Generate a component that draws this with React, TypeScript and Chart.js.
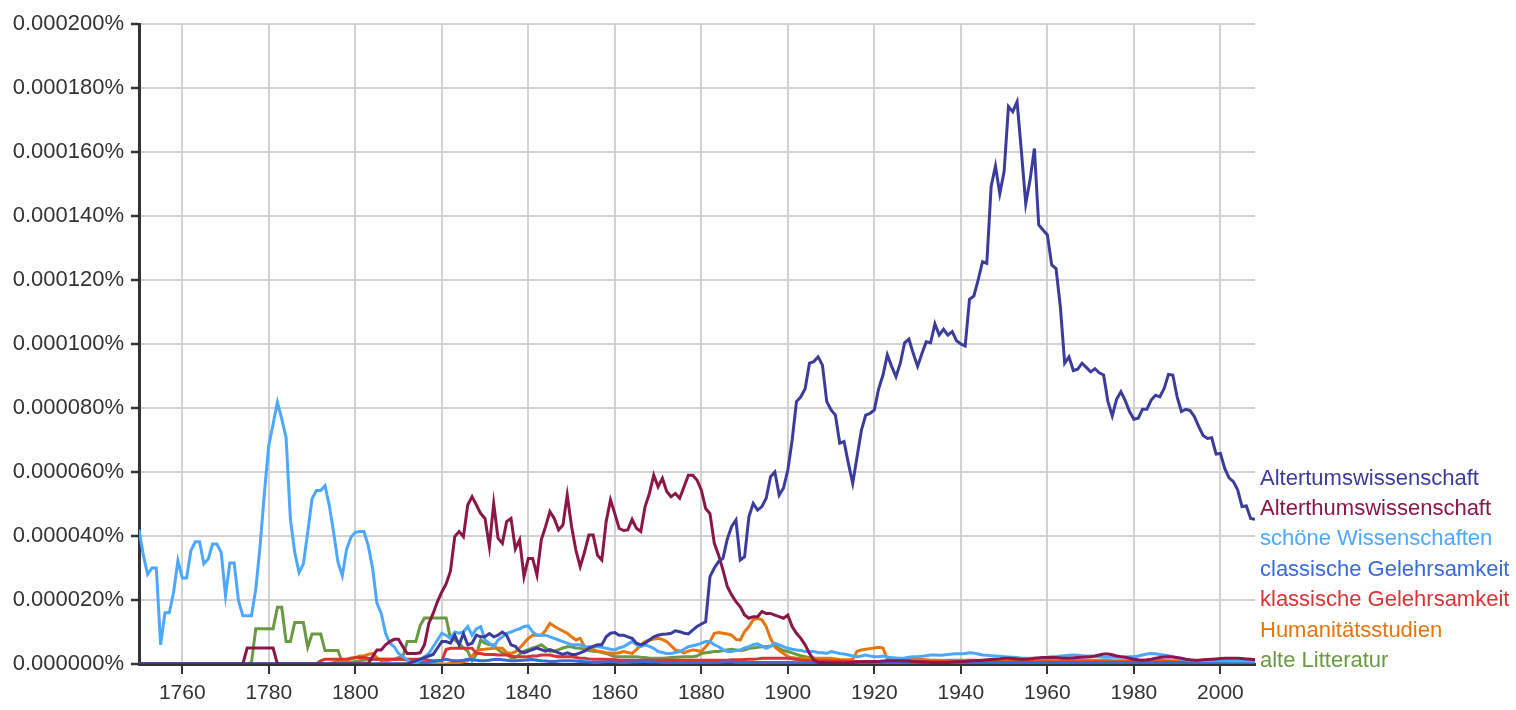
import React, { useEffect, useRef } from 'react';
import { Chart, registerables } from 'chart.js';

Chart.register(...registerables);

// Years 1750..2008, one value per year. Values in units of 0.000001 %.
const START_YEAR = 1750;
const END_YEAR = 2008;
const X_TICKS = [1760, 1780, 1800, 1820, 1840, 1860, 1880, 1900, 1920, 1940, 1960, 1980, 2000];
const Y_MIN = 0;
const Y_MAX = 200;
const Y_STEP = 20;

const SERIES_NAMES = [
  'Altertumswissenschaft',
  'Alterthumswissenschaft',
  'schöne Wissenschaften',
  'classische Gelehrsamkeit',
  'klassische Gelehrsamkeit',
  'Humanitätsstudien',
  'alte Litteratur',
];

const SERIES_COLORS = ['#3c3c9c', '#8a1748', '#4ca8ff', '#3a6ad8', '#d93434', '#e8740c', '#699a42'];

const ALTERTUMS = [
  0, 0, 0, 0, 0, 0, 0, 0, 0, 0,
  0, 0, 0, 0, 0, 0, 0, 0, 0, 0,
  0, 0, 0, 0, 0, 0, 0, 0, 0, 0,
  0, 0, 0, 0, 0, 0, 0, 0, 0, 0,
  0, 0, 0, 0, 0, 0, 0, 0, 0, 0,
  0, 0, 0, 0, 0, 0, 0, 0, 0, 0,
  0, 0, 0, 0.5, 1, 1.5, 2, 2.5, 3, 5,
  7, 7, 6.5, 9, 6, 9.5, 6, 6.5, 9, 8.5,
  8.5, 9.5, 8.5, 9, 10, 9, 6, 5.5, 4, 3.5,
  4, 4.5, 5, 4.5, 4, 4.5, 4, 3.5, 3, 3.5,
  3, 3, 3.5, 4, 5, 5.5, 6, 6, 8.5, 9.6,
  9.8, 9, 9, 8.5, 8, 6.5, 6, 6.5, 7.5, 8.5,
  9, 9.3, 9.4, 9.6, 10.4, 10.1, 9.6, 9.4, 10.6, 11.7,
  12.5, 13.2, 27.3, 30, 32, 33, 39, 43, 45, 32.5,
  33.5, 46, 50.2, 48.1, 49.2, 51.8, 58.5, 60, 52.8, 55,
  60.6, 70, 82, 83.5, 86, 94, 94.5, 96, 93.4, 82,
  79.4, 77.8, 69, 69.5, 62.7, 56.5, 64.8, 73, 77.8, 78.3,
  79.4, 86, 90.3, 96.6, 93, 89.8, 94, 100.4, 101.5, 97,
  93, 97, 100.7, 100.4, 106.3, 102.8, 104.6, 102.8, 103.9, 101,
  100, 99.4, 114, 115, 120, 125.7, 125.2, 149.2, 155.6, 147,
  153.9, 174.2, 172.6, 175.7, 160.1, 143.8, 151.3, 161.1, 137.2, 135.6,
  134.1, 124.7, 123.6, 111.7, 94, 96, 91.7, 92.1, 94, 92.7,
  91.3, 92.3, 91, 90.3, 82, 77.5, 82.7, 85.1, 82.3, 78.9,
  76.5, 76.8, 79.6, 79.6, 82.5, 84, 83.5, 86.1, 90.5, 90.3,
  83.5, 78.9, 79.6, 79.2, 77.3, 74.2, 71.4, 70.5, 70.7, 65.6,
  65.8, 61.1, 58.2, 57, 54.4, 49.2, 49.4, 45.5, 45.2,
];

const ALTERTHUMS = [
  0, 0, 0, 0, 0, 0, 0, 0, 0, 0,
  0, 0, 0, 0, 0, 0, 0, 0, 0, 0,
  0, 0, 0, 0, 0, 5, 5, 5, 5, 5,
  5, 5, 0, 0, 0, 0, 0, 0, 0, 0,
  0, 0, 0, 0, 0, 0, 0, 0, 0, 0,
  0, 0, 0, 0.2, 2.3, 4.4, 4.4, 6, 7, 7.7,
  7.7, 5.4, 3.3, 3.3, 3.3, 3.5, 6, 12.7, 15.8, 19.5,
  22.5, 25, 29, 39.8, 41.4, 39.8, 49.7, 52.3, 49.7, 47,
  45.5, 36.7, 50.2, 39.3, 37.7, 44.5, 45.5, 36, 38.8, 27.3,
  33, 33, 27.8, 38.8, 43, 47.6, 45.5, 41.9, 43.4, 52.8,
  43, 35.6, 30.4, 35, 40.3, 40.3, 34, 32.5, 44.5, 51.3,
  47, 42.4, 41.7, 41.9, 45.2, 42.4, 41.4, 49.2, 53.3, 59,
  55.4, 58, 53.9, 52.3, 53.3, 51.8, 55.4, 59, 59, 57.5,
  54.4, 48.6, 47, 37.7, 34, 29.4, 24.2, 21.6, 19.5, 17.9,
  15.3, 14.3, 14.8, 14.8, 16.4, 15.8, 15.8, 15.3, 14.8, 14.3,
  15.3, 11.7, 9.6, 8, 6, 3.3, 1.3, 0.5, 0.5, 0.4,
  0.3, 0.3, 0.3, 0.3, 0.4, 0.5, 0.6, 0.7, 0.7, 0.7,
  0.8, 0.8, 0.9, 1, 1, 1, 1, 1, 0.9, 0.8,
  0.7, 0.6, 0.6, 0.5, 0.5, 0.5, 0.5, 0.5, 0.6, 0.7,
  0.7, 0.8, 0.9, 1, 1.1, 1.2, 1.3, 1.4, 1.5, 1.6,
  1.8, 1.8, 1.7, 1.6, 1.5, 1.5, 1.6, 1.8, 1.9, 2,
  2, 2, 2, 1.9, 1.8, 1.8, 1.9, 2, 2.1, 2.2,
  2.3, 2.5, 2.8, 3.1, 3.1, 2.9, 2.5, 2.3, 2.1, 1.8,
  1.5, 1.3, 1.2, 1.3, 1.5, 1.8, 2, 2.2, 2.3, 2.2,
  2, 1.8, 1.5, 1.3, 1.2, 1.2, 1.3, 1.4, 1.5, 1.6,
  1.7, 1.8, 1.8, 1.8, 1.8, 1.7, 1.6, 1.5, 1.3,
];

const SCHOENE = [
  42, 34, 28, 30, 30, 6, 16, 16, 22.4, 32.3,
  26.9, 26.9, 35.4, 38.2, 38.2, 31.3, 32.8, 37.5, 37.5, 34.9,
  21.4, 31.6, 31.6, 19.8, 15.1, 15.1, 15.1, 23.4, 37, 53.6,
  68.2, 75, 81.8, 76.6, 70.8, 45.3, 34.9, 28.6, 31.3, 41.1,
  51.6, 54.2, 54.2, 55.7, 49.5, 41.1, 31.8, 27.6, 35.9, 39.6,
  41.1, 41.4, 41.4, 37, 30, 19, 15.8, 9.6, 6.5, 5.4,
  3.3, 2.3, 1.3, 0.2, 0, 1.3, 2.3, 3.3, 5.4, 7.5,
  9.6, 9, 8, 10, 9.6, 10, 11.7, 9, 11, 11.7,
  7.5, 6.5, 5.4, 7.5, 8.5, 9.6, 10, 10.6, 11, 11.7,
  11.9, 10, 9, 9, 9, 8.5, 8, 7.5, 7, 6.5,
  6, 6, 6, 5.5, 5.4, 5.4, 5.4, 5.2, 4.9, 4.6,
  4.4, 5, 5.4, 6.2, 7, 6, 5.4, 6, 5.5, 4.9,
  3.9, 3.6, 3.3, 3.3, 3.6, 3.9, 4.6, 5.4, 5.7, 6,
  6.5, 7, 7, 6, 5.4, 4.5, 3.9, 3.9, 4.2, 4.4,
  5, 5.4, 6, 6.3, 5.6, 4.9, 5.5, 6.5, 6, 5.4,
  4.9, 4.6, 4.4, 4.2, 3.9, 3.9, 3.9, 3.6, 3.5, 3.3,
  3.9, 3.6, 3.3, 3.1, 2.8, 2.5, 2.3, 2.5, 2.8, 2.5,
  2.3, 2.3, 2.5, 2.2, 2, 1.9, 1.8, 1.9, 2.1, 2.3,
  2.3, 2.4, 2.6, 2.8, 2.8, 2.7, 2.8, 3, 3.1, 3.2,
  3.2, 3.3, 3.5, 3.4, 3.1, 2.8, 2.7, 2.6, 2.5, 2.4,
  2.3, 2.2, 2.1, 2, 1.8, 1.8, 1.8, 1.8, 1.9, 2,
  2.1, 2.3, 2.3, 2.5, 2.6, 2.7, 2.8, 2.7, 2.6, 2.5,
  2.5, 2.4, 2.3, 2.1, 2.1, 2.1, 2.1, 2.1, 2.2, 2.3,
  2.3, 2.5, 2.8, 3.1, 3.3, 3.2, 3, 2.8, 2.6, 2.3,
  1.8, 1.5, 1.3, 1.2, 1.1, 1, 1, 1, 1, 1,
  1, 1, 0.9, 0.9, 0.9, 0.9, 0.9, 0.9, 0.9,
];

const CLASSISCHE = [
  0, 0, 0, 0, 0, 0, 0, 0, 0, 0,
  0, 0, 0, 0, 0, 0, 0, 0, 0, 0,
  0, 0, 0, 0, 0, 0, 0, 0, 0, 0,
  0, 0, 0, 0, 0, 0, 0, 0, 0, 0,
  0, 0, 0, 0, 0, 0, 0, 0, 0, 0,
  0, 0, 0, 0, 0, 0, 0, 0, 0, 0,
  0, 0, 0, 0.2, 0.3, 0.3, 0.5, 0.5, 0.8, 1,
  1.2, 1.5, 1.2, 1, 1, 1.2, 1.5, 1.3, 1.2, 1,
  1, 1.2, 1.4, 1.5, 1.3, 1.2, 1, 1, 1.1, 1.2,
  1.3, 1.4, 1.2, 1, 0.9, 0.8, 0.8, 0.9, 1, 1,
  1, 0.9, 0.8, 0.7, 0.6, 0.5, 0.5, 0.6, 0.7, 0.7,
  0.6, 0.5, 0.5, 0.5, 0.6, 0.6, 0.7, 0.7, 0.6, 0.6,
  0.6, 0.5, 0.5, 0.5, 0.5, 0.5, 0.5, 0.5, 0.5, 0.5,
  0.5, 0.5, 0.5, 0.5, 0.5, 0.6, 0.6, 0.6, 0.5, 0.5,
  0.5, 0.5, 0.5, 0.5, 0.5, 0.5, 0.5, 0.5, 0.5, 0.5,
  0.5, 0.5, 0.4, 0.4, 0.4, 0.4, 0.4, 0.4, 0.4, 0.4,
  0.4, 0.4, 0.4, 0.3, 0.3, 0.3, 0.3, 0.3, 0.3, 0.3,
  0.3, 0.3, 0.3, 0.3, 0.3, 0.3, 0.3, 0.3, 0.3, 0.3,
  0.3, 0.3, 0.3, 0.3, 0.3, 0.3, 0.3, 0.3, 0.3, 0.3,
  0.3, 0.3, 0.3, 0.3, 0.3, 0.3, 0.3, 0.3, 0.3, 0.3,
  0.3, 0.3, 0.3, 0.3, 0.3, 0.3, 0.3, 0.3, 0.3, 0.3,
  0.3, 0.3, 0.3, 0.3, 0.3, 0.3, 0.3, 0.3, 0.3, 0.3,
  0.3, 0.3, 0.3, 0.3, 0.3, 0.3, 0.3, 0.3, 0.3, 0.3,
  0.3, 0.3, 0.3, 0.3, 0.3, 0.3, 0.3, 0.3, 0.3, 0.3,
  0.3, 0.3, 0.3, 0.3, 0.3, 0.3, 0.3, 0.3, 0.3, 0.3,
  0.3, 0.3, 0.3, 0.3, 0.3, 0.3, 0.3, 0.3, 0.3,
];

const KLASSISCHE = [
  0, 0, 0, 0, 0, 0, 0, 0, 0, 0,
  0, 0, 0, 0, 0, 0, 0, 0, 0, 0,
  0, 0, 0, 0, 0, 0, 0, 0, 0, 0,
  0, 0, 0, 0, 0, 0, 0, 0, 0, 0,
  0, 0, 1, 1.5, 1.5, 1.5, 1.5, 1.5, 1.5, 1.8,
  2, 2, 2, 1.8, 1.5, 1.5, 1.5, 1.5, 1.5, 1.5,
  1.5, 1.5, 1.5, 1.5, 1.5, 1.5, 1.5, 1.2, 1, 1,
  1, 4.5, 4.9, 4.9, 4.9, 4.9, 4.9, 4.9, 3.3, 3.3,
  3, 3, 3, 2.8, 2.8, 2.8, 2.5, 2.3, 2.3, 2.3,
  2.3, 2.5, 2.5, 2.8, 2.8, 2.8, 2.5, 2.3, 2.3, 2.3,
  2.3, 2, 1.8, 1.8, 1.6, 1.5, 1.5, 1.5, 1.5, 1.4,
  1.3, 1.2, 1.2, 1.2, 1.2, 1.2, 1.2, 1.2, 1.2, 1.2,
  1.2, 1.2, 1.2, 1.2, 1.2, 1.2, 1.2, 1.2, 1.2, 1.2,
  1.2, 1.2, 1.2, 1.2, 1.2, 1.2, 1.2, 1.3, 1.3, 1.3,
  1.4, 1.5, 1.5, 1.6, 1.8, 1.8, 1.8, 1.8, 1.8, 1.8,
  1.8, 1.6, 1.4, 1.2, 1.1, 1, 1, 1, 1, 1,
  0.9, 0.9, 0.9, 0.8, 0.8, 0.8, 0.8, 0.8, 0.8, 0.8,
  0.7, 0.7, 0.7, 0.7, 0.7, 0.7, 0.7, 0.7, 0.7, 0.7,
  0.7, 0.7, 0.7, 0.7, 0.7, 0.7, 0.7, 0.7, 0.7, 0.7,
  0.7, 0.7, 0.7, 0.6, 0.6, 0.6, 0.6, 0.6, 0.6, 0.6,
  0.6, 0.6, 0.6, 0.6, 0.6, 0.6, 0.6, 0.6, 0.6, 0.6,
  0.6, 0.6, 0.6, 0.6, 0.6, 0.6, 0.6, 0.6, 0.6, 0.6,
  0.6, 0.6, 0.6, 0.6, 0.6, 0.6, 0.6, 0.6, 0.6, 0.6,
  0.6, 0.6, 0.6, 0.6, 0.6, 0.6, 0.6, 0.6, 0.6, 0.6,
  0.5, 0.5, 0.5, 0.5, 0.5, 0.5, 0.5, 0.5, 0.5, 0.5,
  0.5, 0.5, 0.5, 0.5, 0.5, 0.5, 0.5, 0.5, 0.5,
];

const HUMANITAETS = [
  0, 0, 0, 0, 0, 0, 0, 0, 0, 0,
  0, 0, 0, 0, 0, 0, 0, 0, 0, 0,
  0, 0, 0, 0, 0, 0, 0, 0, 0, 0,
  0, 0, 0, 0, 0, 0, 0, 0, 0, 0,
  0, 0, 0, 0, 0, 0.5, 1, 1, 1, 1.5,
  2, 2.5, 2.5, 3, 3.3, 2, 1, 1, 1.2, 1.5,
  1.5, 1.5, 1.2, 1, 0.8, 0.6, 0.5, 0.4, 0.2, 0,
  0, 0, 0.2, 0.4, 0.5, 0.7, 1, 2.5, 4, 4.5,
  4.6, 4.8, 4.9, 4.9, 4.9, 3.5, 3.3, 3.8, 5, 6.5,
  8, 9, 9, 9, 10.5, 12.7, 11.8, 11, 10.3, 9.6,
  8.5, 7.5, 8, 5.4, 4.9, 4.5, 4, 3.8, 3.5, 3.4,
  3.3, 3.5, 3.9, 3.6, 3.3, 4.5, 6, 7, 7.5, 7.8,
  8, 7.6, 7, 5.7, 4.4, 4, 3.5, 4, 4.4, 4.2,
  3.9, 5.4, 7, 9.6, 9.8, 9.6, 9.4, 9, 7.7, 7.5,
  10.1, 11.7, 13.8, 14.3, 13.8, 11.7, 8, 5.4, 4.2, 3.3,
  2.3, 2, 1.8, 1.8, 1.8, 1.8, 1.8, 1.8, 1.8, 1.8,
  1.8, 1.6, 1.4, 1.3, 1.3, 1.5, 4, 4.4, 4.6, 4.8,
  5, 5.2, 5, 1.5, 1.5, 1.5, 1.5, 1.5, 1.5, 1.5,
  1.5, 1.4, 1.3, 1.2, 1.2, 1.2, 1.1, 1, 1, 1,
  1, 1.1, 1.2, 1.2, 1.1, 1, 1, 0.9, 0.9, 0.9,
  0.9, 0.9, 0.9, 0.9, 1, 1, 1, 1, 1, 1,
  1, 1, 1, 1, 1, 1, 1, 1.1, 1.1, 1.2,
  1.2, 1.2, 1.2, 1.1, 1.1, 1, 1, 1, 1, 1,
  1, 1, 1, 1, 1.1, 1.1, 1.1, 1.1, 1, 1,
  1, 0.9, 0.9, 0.9, 0.8, 0.8, 0.8, 0.8, 0.8, 0.8,
  0.8, 0.8, 0.8, 0.8, 0.8, 0.8, 0.8, 0.8, 0.8,
];

const ALTE = [
  0, 0, 0, 0, 0, 0, 0, 0, 0, 0,
  0, 0, 0, 0, 0, 0, 0, 0, 0, 0,
  0, 0, 0, 0, 0, 0, 0.5, 11, 11, 11,
  11, 11, 17.7, 17.7, 7, 7, 13, 13, 13, 5.2,
  9.4, 9.4, 9.4, 4.2, 4.2, 4.2, 4.2, 0.5, 0.3, 0.5,
  0.8, 1, 1.2, 1.5, 1.5, 1.5, 1.5, 1.5, 1.5, 1.5,
  2, 2.3, 7, 7, 7, 12, 14.4, 14.4, 14.4, 14.4,
  14.4, 14.4, 8, 7.5, 6.5, 5, 4, 1, 3, 7.5,
  6.5, 6, 6, 4.5, 3.5, 3, 2, 2, 3, 4,
  4.5, 5, 5.4, 6, 5, 4, 4, 4.5, 5, 5.4,
  5.4, 5, 4.9, 4.5, 4.2, 4, 3.9, 3.6, 3.3, 2.8,
  2.3, 2.3, 2.3, 2.3, 2.3, 2.3, 2.1, 2, 1.8, 1.8,
  1.8, 1.8, 1.9, 2, 2.1, 2.2, 2.3, 2.3, 2.3, 2.5,
  3.3, 3.5, 3.7, 3.9, 3.9, 4.2, 4.4, 4.6, 4.4, 4.2,
  4.4, 4.9, 5, 5.2, 5.4, 5.4, 5.6, 6, 4.9, 4.2,
  3.9, 3.5, 3, 2.6, 2.3, 2, 1.8, 1.6, 1.5, 1.3,
  1.1, 1, 0.9, 0.8, 0.8, 0.7, 0.7, 0.7, 0.7, 0.7,
  0.7, 0.7, 0.7, 0.6, 0.6, 0.6, 0.6, 0.6, 0.6, 0.6,
  0.6, 0.6, 0.7, 0.8, 0.9, 1, 1.1, 1.2, 1.2, 1.2,
  1.2, 1.2, 1.2, 1.1, 1, 0.9, 0.8, 0.7, 0.6, 0.5,
  0.5, 0.5, 0.5, 0.5, 0.5, 0.5, 0.5, 0.6, 0.8, 1,
  1.1, 1, 0.9, 0.8, 0.7, 0.6, 0.5, 0.5, 0.5, 0.5,
  0.5, 0.5, 0.5, 0.5, 0.5, 0.5, 0.5, 0.5, 0.5, 0.5,
  0.5, 0.5, 0.5, 0.5, 0.5, 0.5, 0.5, 0.5, 0.5, 0.5,
  0.5, 0.5, 0.5, 0.5, 0.5, 0.5, 0.5, 0.5, 0.5, 0.5,
  0.5, 0.5, 0.5, 0.5, 0.5, 0.5, 0.5, 0.5, 0.5,
];

const SERIES_VALUES = [ALTERTUMS, ALTERTHUMS, SCHOENE, CLASSISCHE, KLASSISCHE, HUMANITAETS, ALTE];

const FONT_FAMILY = '"Liberation Sans", Arial, Helvetica, sans-serif';

export default function App() {
  const canvasRef = useRef<HTMLCanvasElement | null>(null);

  useEffect(() => {
    if (!canvasRef.current) return;
    Chart.defaults.font.family = FONT_FAMILY;

    const endLabels = {
      id: 'endLabels',
      afterDatasetsDraw(chart: any) {
        const { ctx, chartArea } = chart;
        const n = chart.data.datasets.length;
        ctx.save();
        ctx.font = `22px ${FONT_FAMILY}`;
        ctx.textAlign = 'left';
        ctx.textBaseline = 'alphabetic';
        chart.data.datasets.forEach((ds: any, i: number) => {
          ctx.fillStyle = ds.borderColor;
          const y = chartArea.bottom + 3 - (n - 1 - i) * 30.4;
          ctx.fillText(ds.label, chartArea.right + 5, y);
        });
        ctx.restore();
      },
    };

    const datasets = SERIES_NAMES.map((name, i) => ({
      label: name,
      data: SERIES_VALUES[i].map((v, k) => ({ x: START_YEAR + k, y: v })),
      borderColor: SERIES_COLORS[i],
      backgroundColor: SERIES_COLORS[i],
      borderWidth: 3,
      pointRadius: 0,
      tension: 0,
      fill: false,
    }));

    const chart = new Chart(canvasRef.current, {
      type: 'line',
      data: { datasets },
      plugins: [endLabels],
      options: {
        animation: false,
        responsive: true,
        maintainAspectRatio: false,
        layout: { padding: { left: 0, right: 261, top: 24, bottom: 0 } },
        plugins: { legend: { display: false }, tooltip: { enabled: false } },
        scales: {
          x: {
            type: 'linear',
            min: START_YEAR,
            max: END_YEAR,
            afterBuildTicks: (s: any) => {
              s.ticks = X_TICKS.map((v) => ({ value: v }));
            },
            afterFit: (s: any) => {
              s.height = 46;
            },
            grid: { color: '#d2d2d2', lineWidth: 2, tickColor: '#333', tickLength: 10, tickWidth: 2 },
            border: { color: '#333', width: 3 },
            ticks: {
              color: '#333',
              font: { size: 21, family: FONT_FAMILY },
              padding: 7,
              maxRotation: 0,
              autoSkip: false,
              callback: (v: any) => String(v),
            },
          },
          y: {
            min: Y_MIN,
            max: Y_MAX,
            afterFit: (s: any) => {
              s.width = 139;
            },
            grid: { color: '#d2d2d2', lineWidth: 2, tickColor: '#333', tickLength: 8, tickWidth: 2.5 },
            border: { color: '#333', width: 3 },
            ticks: {
              stepSize: Y_STEP,
              color: '#333',
              font: { size: 22, family: FONT_FAMILY },
              padding: 7,
              callback: (v: any) => (Number(v) / 1e6).toFixed(6) + '%',
            },
          },
        },
      },
    });

    return () => chart.destroy();
  }, []);

  return (
    <div style={{ position: 'fixed', left: 0, top: 0, width: 1516, height: 710, background: '#fff' }}>
      <canvas ref={canvasRef} />
    </div>
  );
}
